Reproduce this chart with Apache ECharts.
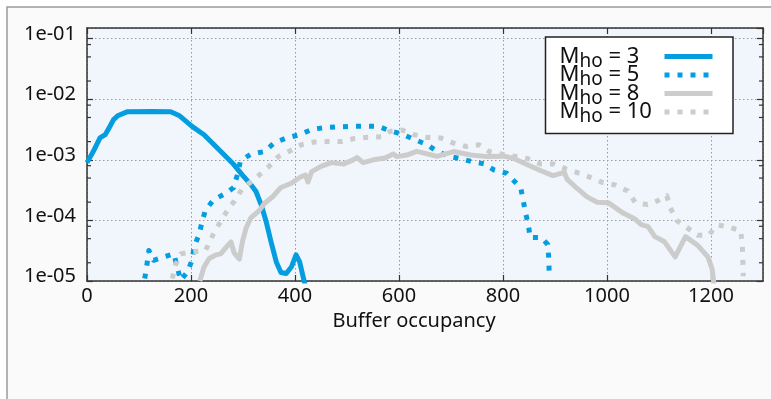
<!DOCTYPE html>
<html>
<head>
<meta charset="utf-8">
<script src="https://cdn.jsdelivr.net/npm/echarts@6/dist/echarts.min.js"></script>
<style>
  html, body { margin: 0; padding: 0; background: #fff; }
  #chart { width: 771px; height: 399px; }
</style>
</head>
<body>
<div id="chart"></div>
<script>
// buffer occupancy (x) and probability (y) for each M_ho
var m3X = [0, 12, 25, 35, 44, 51, 60, 77, 125, 161, 177, 202, 225, 254, 280, 299, 315, 325, 335, 344, 354, 364, 373, 383, 393, 402, 409, 415, 420];
var m3Y = [9.0e-4, 1.37e-3, 2.3e-3, 2.6e-3, 3.56e-3, 4.6e-3, 5.4e-3, 6.2e-3, 6.3e-3, 6.2e-3, 5.4e-3, 3.56e-3, 2.6e-3, 1.47e-3, 8.8e-4, 5.6e-4, 3.9e-4, 3.0e-4, 1.8e-4, 1.0e-4, 4.4e-5, 2.06e-5, 1.38e-5, 1.33e-5, 1.7e-5, 2.7e-5, 2.06e-5, 1.24e-5, 8e-6];

var m5X = [111, 115, 119, 128, 148, 167, 180, 193, 202, 206, 215, 222, 228, 244, 267, 282, 290, 295, 315, 341, 360, 384, 409, 433, 458, 484, 509, 535, 561, 583, 605, 628, 654, 673, 696, 718, 741, 763, 783, 807, 821, 834, 839, 844, 849, 852, 874, 886, 888, 889];
var m5Y = [1.1e-5, 1.8e-5, 3.2e-5, 2.2e-5, 2.5e-5, 2.8e-5, 1.03e-5, 1.4e-5, 2.2e-5, 3.7e-5, 5.7e-5, 1.0e-4, 1.5e-4, 2.2e-4, 2.8e-4, 3.5e-4, 6.0e-4, 9.6e-4, 1.24e-3, 1.37e-3, 1.9e-3, 2.3e-3, 2.6e-3, 3.2e-3, 3.4e-3, 3.5e-3, 3.56e-3, 3.6e-3, 3.56e-3, 3.0e-3, 2.67e-3, 2.2e-3, 1.78e-3, 1.38e-3, 1.14e-3, 1.05e-3, 9.3e-4, 8.6e-4, 6.8e-4, 6.0e-4, 4.5e-4, 3.5e-4, 2.1e-4, 1.26e-4, 8.4e-5, 5.2e-5, 5.2e-5, 4.0e-5, 2.4e-5, 1.2e-5];

var m8X = [217, 225, 235, 248, 257, 271, 277, 283, 293, 299, 306, 315, 331, 341, 357, 373, 393, 412, 420, 425, 432, 450, 470, 493, 512, 519, 531, 551, 573, 589, 596, 615, 634, 660, 673, 705, 738, 770, 802, 821, 847, 873, 896, 918, 923, 942, 961, 981, 1003, 1031, 1052, 1066, 1079, 1092, 1110, 1131, 1151, 1174, 1194, 1202, 1205, 1207];
var m8Y = [1.0e-5, 1.7e-5, 2.35e-5, 2.7e-5, 2.8e-5, 3.9e-5, 4.4e-5, 2.9e-5, 2.3e-5, 4.5e-5, 7.5e-5, 1.1e-4, 1.45e-4, 1.9e-4, 2.46e-4, 3.5e-4, 4.1e-4, 5.3e-4, 5.6e-4, 4.3e-4, 6.4e-4, 7.8e-4, 9.0e-4, 8.5e-4, 1.0e-3, 1.09e-3, 9.0e-4, 1.0e-3, 1.07e-3, 1.25e-3, 1.13e-3, 1.2e-3, 1.38e-3, 1.22e-3, 1.14e-3, 1.37e-3, 1.2e-3, 1.13e-3, 1.15e-3, 1.05e-3, 8.3e-4, 6.6e-4, 5.5e-4, 6.2e-4, 4.8e-4, 3.4e-4, 2.47e-4, 2.0e-4, 1.95e-4, 1.32e-4, 1.08e-4, 8.5e-5, 7.9e-5, 5.4e-5, 4.5e-5, 2.5e-5, 5.4e-5, 3.9e-5, 2.5e-5, 1.6e-5, 1.0e-5, 5e-6];

var m10X = [164, 170, 180, 200, 228, 244, 261, 275, 284, 298, 322, 348, 368, 390, 412, 437, 463, 489, 514, 540, 566, 583, 606, 629, 655, 680, 704, 729, 754, 773, 799, 824, 847, 873, 898, 921, 947, 969, 992, 1015, 1040, 1054, 1078, 1097, 1115, 1122, 1134, 1154, 1174, 1195, 1213, 1234, 1257, 1260, 1261, 1262];
var m10Y = [1.1e-5, 1.8e-5, 2.8e-5, 3.0e-5, 3.2e-5, 6.2e-5, 1.1e-4, 1.7e-4, 2.1e-4, 3.3e-4, 4.8e-4, 7.5e-4, 1.13e-3, 1.4e-3, 1.77e-3, 1.97e-3, 2.0e-3, 2.0e-3, 2.25e-3, 2.36e-3, 2.4e-3, 2.95e-3, 3.1e-3, 2.6e-3, 2.34e-3, 2.3e-3, 1.9e-3, 1.66e-3, 1.77e-3, 1.37e-3, 1.24e-3, 1.14e-3, 1.05e-3, 8.5e-4, 8.5e-4, 7.1e-4, 6.0e-4, 5.1e-4, 4.2e-4, 3.86e-4, 3.05e-4, 2.0e-4, 1.82e-4, 2.1e-4, 2.55e-4, 1.6e-4, 1.0e-4, 7.6e-5, 5.7e-5, 5.7e-5, 8.4e-5, 7.8e-5, 6.8e-5, 4.2e-5, 2.5e-5, 1.2e-5];

var legendNames = ['M3', 'M5', 'M8', 'M10'];
var legendNums = ['3', '5', '8', '10'];
var minorTicks = [2e-5, 5e-5, 8e-5, 2e-4, 5e-4, 8e-4, 2e-3, 5e-3, 8e-3, 2e-2, 5e-2, 8e-2];

var BLUE = '#049ddf';
var GRAY = '#cccccc';
var FONT = 'Noto Sans';

function zip(xs, ys) {
    var out = [];
    for (var i = 0; i < xs.length; i++) out.push([xs[i], ys[i]]);
    return out;
}

function lineSeries(name, xs, ys, color, dotted) {
    return {
        name: name,
        type: 'line',
        data: zip(xs, ys),
        showSymbol: false,
        symbol: 'none',
        clip: true,
        lineStyle: {
            color: color,
            width: 5,
            type: dotted ? [5, 8] : 'solid',
            cap: 'butt',
            join: 'round'
        },
        itemStyle: { color: color },
        z: 3
    };
}

var myChart = echarts.init(document.getElementById('chart'));

var option = {
    backgroundColor: '#fff',
    animation: false,
    graphic: [{
        type: 'rect',
        z: -10,
        shape: { x: 7, y: 7, width: 820, height: 450 },
        style: { fill: '#fafafa', stroke: '#9a9a9a', lineWidth: 1.5 }
    }],
    grid: {
        left: 87, right: 8, top: 28, bottom: 118,
        show: true,
        backgroundColor: '#f0f6fb',
        borderWidth: 0
    },
    legend: {
        data: legendNames,
        orient: 'vertical',
        align: 'right',
        right: 38,
        top: 37,
        padding: [5, 18, 7, 14],
        itemGap: -10.5,
        itemWidth: 48,
        itemHeight: 14,
        backgroundColor: '#fff',
        borderColor: '#222',
        borderWidth: 1.5,
        borderRadius: 0,
        itemStyle: { opacity: 0 },
        lineStyle: { width: 5, cap: 'butt' },
        formatter: function (name) {
            var n = legendNums[legendNames.indexOf(name)];
            return '{m|M}{s|ho}{m| = ' + n + '}';
        },
        textStyle: {
            width: 100,
            color: '#111',
            fontFamily: FONT,
            rich: {
                m: { fontSize: 22, lineHeight: 20, fontFamily: FONT, align: 'left', color: '#111' },
                s: { fontSize: 19, lineHeight: 20, fontFamily: FONT, align: 'left', color: '#111', padding: [10, 0, 0, 0] }
            }
        }
    },
    xAxis: [{
        type: 'value',
        min: 0, max: 1300, interval: 200,
        name: 'Buffer occupancy',
        nameLocation: 'middle',
        nameGap: 30,
        nameTextStyle: { fontFamily: FONT, fontSize: 20, color: '#111', padding: [0, 22, 0, 0] },
        axisLine: { show: true, onZero: false, lineStyle: { color: '#333', width: 1.5 } },
        axisTick: { show: true, inside: true, length: 6, lineStyle: { color: '#333', width: 1.2 } },
        axisLabel: {
            fontFamily: FONT, fontSize: 20, color: '#111', margin: 5, showMaxLabel: false,
            formatter: function (val) { return String(val); }
        },
        splitLine: { show: true, lineStyle: { color: '#9a9a9a', width: 1, type: [1.5, 2.5] } }
    }, {
        type: 'value',
        position: 'top',
        min: 0, max: 1300, interval: 200,
        axisLine: { show: true, onZero: false, lineStyle: { color: '#333', width: 1.5 } },
        axisTick: { show: true, inside: true, length: 6, lineStyle: { color: '#333', width: 1.2 } },
        axisLabel: { show: false },
        splitLine: { show: false }
    }],
    yAxis: [{
        type: 'log',
        logBase: 10,
        min: 1e-5, max: 0.15,
        axisLine: { show: true, onZero: false, lineStyle: { color: '#333', width: 1.5 } },
        axisTick: { show: true, inside: true, length: 6, lineStyle: { color: '#333', width: 1.2 } },
        axisLabel: {
            fontFamily: FONT, fontSize: 20, color: '#111', margin: 11,
            verticalAlign: 'bottom',
            lineHeight: 9,
            showMaxLabel: false,
            formatter: function (val) {
                var e = Math.round(-Math.log10(val));
                return '1e-' + (e < 10 ? '0' : '') + e;
            }
        },
        splitLine: { show: true, lineStyle: { color: '#9a9a9a', width: 1, type: [1.5, 2.5] } }
    }, {
        type: 'log',
        logBase: 10,
        position: 'right',
        min: 1e-5, max: 0.15,
        axisLine: { show: true, onZero: false, lineStyle: { color: '#333', width: 1.5 } },
        axisTick: { show: true, inside: true, length: 6, lineStyle: { color: '#333', width: 1.2 } },
        axisLabel: { show: false },
        splitLine: { show: false }
    }],
    series: [
        lineSeries('M3', m3X, m3Y, BLUE, false),
        lineSeries('M5', m5X, m5Y, BLUE, true),
        lineSeries('M8', m8X, m8Y, GRAY, false),
        lineSeries('M10', m10X, m10Y, GRAY, true),
        {
            type: 'custom',
            silent: true,
            z: 4,
            data: minorTicks.map(function (v) { return [0, v]; }),
            encode: { x: 0, y: 1 },
            renderItem: function (params, api) {
                var v = api.value(1);
                var l = api.coord([0, v]);
                var r = api.coord([1300, v]);
                var st = { stroke: '#333', lineWidth: 1.2 };
                return {
                    type: 'group',
                    children: [
                        { type: 'line', shape: { x1: l[0], y1: l[1], x2: l[0] + 4, y2: l[1] }, style: st },
                        { type: 'line', shape: { x1: r[0] - 4, y1: r[1], x2: r[0], y2: r[1] }, style: st }
                    ]
                };
            }
        }
    ]
};

myChart.setOption(option);
</script>
</body>
</html>
